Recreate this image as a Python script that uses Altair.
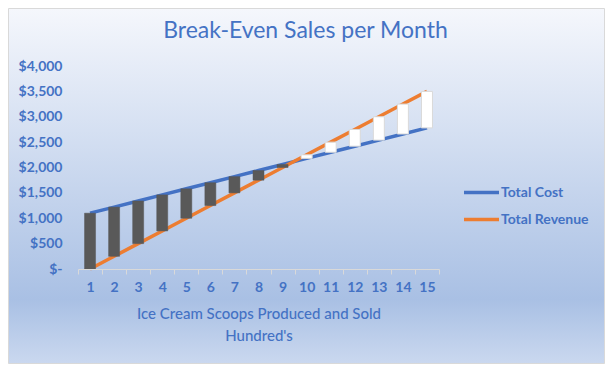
import altair as alt
import pandas as pd

# ---- data ----
units = list(range(1, 16))  # hundreds of scoops
total_cost = [1100, 1220, 1340, 1460, 1580, 1700, 1820, 1940, 2060, 2180, 2300, 2420, 2540, 2660, 2780]
total_revenue = [0, 250, 500, 750, 1000, 1250, 1500, 1750, 2000, 2250, 2500, 2750, 3000, 3250, 3500]
series_names = ["Total Cost", "Total Revenue"]
series_colors = ["#4472C4", "#ED7D31"]
y_ticks = [0, 500, 1000, 1500, 2000, 2500, 3000, 3500, 4000]

df = pd.DataFrame({"units": units, "Total Cost": total_cost, "Total Revenue": total_revenue})

TEXT = "#4472C4"
FONT = "Lato"
W, H = 361, 203
PAD = {"left": 70, "top": 58, "right": 166, "bottom": 95}

x_enc = alt.X(
    "units:O",
    sort="ascending",
    scale=alt.Scale(paddingInner=0, paddingOuter=0),
    axis=alt.Axis(
        title=["Ice Cream Scoops Produced and Sold", "Hundred's"],
        labelAngle=0,
        tickBand="extent",
        tickSize=5,
        tickColor="#d9d9d9",
        domainColor="#d9d9d9",
        labelFont=FONT, labelFontSize=14, labelFontWeight="bold", labelColor=TEXT,
        labelPadding=6,
        titleFont=FONT, titleFontSize=15, titleFontWeight=500, titleColor=TEXT,
        titlePadding=12, titleLineHeight=22,
        zindex=1,
    ),
)

y_scale = alt.Scale(domain=[0, 4000], nice=False)
y_axis = alt.Axis(
    title=None, values=y_ticks, grid=False, domain=False, ticks=False,
    labelExpr="datum.value == 0 ? '$-\u00a0\u00a0' : '$' + format(datum.value, ',')",
    labelFont=FONT, labelFontSize=14, labelFontWeight="bold", labelColor=TEXT,
    labelPadding=16, labelOverlap=False, zindex=1,
)

bg = alt.Chart(alt.Data(values=[{}])).mark_rect(
    fill=alt.LinearGradient(
        gradient="linear", x1=0, x2=0, y1=0, y2=1,
        stops=[
            alt.GradientStop(offset=0, color="#f5f7fc"),
            alt.GradientStop(offset=0.82, color="#a9c0e4"),
            alt.GradientStop(offset=1, color="#cad8ef"),
        ],
    ),
    stroke="#d9d9d9", strokeWidth=1,
).encode(
    x=alt.value(-PAD["left"] + 0.5), x2=alt.value(W + PAD["right"] - 0.5),
    y=alt.value(-PAD["top"] + 0.5), y2=alt.value(H + PAD["bottom"] - 0.5),
)

lines = alt.Chart().transform_fold(
    series_names, as_=["series", "value"]
).mark_line(strokeWidth=3.5).encode(
    x=x_enc,
    y=alt.Y("value:Q", scale=y_scale, axis=y_axis),
    color=alt.Color(
        "series:N",
        scale=alt.Scale(domain=series_names, range=series_colors),
        legend=alt.Legend(
            title=None, orient="none", legendX=384, legendY=107,
            symbolType="stroke", symbolSize=1225, symbolStrokeWidth=3.5,
            labelFont=FONT, labelFontSize=14, labelFontWeight="bold", labelColor=TEXT,
            labelOffset=0, rowPadding=-11, padding=0,
        ),
    ),
)

bars_down = alt.Chart().transform_filter(
    "datum['Total Cost'] > datum['Total Revenue']"
).mark_bar(size=11, fill="#595959", stroke="#595959", strokeWidth=0.5).encode(
    x=x_enc,
    y=alt.Y(field="Total Revenue", type="quantitative", scale=y_scale, axis=y_axis),
    y2=alt.Y2(field="Total Cost"),
)

bars_up = alt.Chart().transform_filter(
    "datum['Total Cost'] <= datum['Total Revenue']"
).mark_bar(size=11, fill="white", stroke="#d9d9d9", strokeWidth=1).encode(
    x=x_enc,
    y=alt.Y(field="Total Revenue", type="quantitative", scale=y_scale, axis=y_axis),
    y2=alt.Y2(field="Total Cost"),
)

chart = alt.layer(bg, lines, bars_down, bars_up, data=df).properties(
    width=W, height=H,
    autosize=alt.AutoSizeParams(type="none"),
    padding=PAD,
    title=alt.Title(
        "Break-Even Sales per Month", font=FONT, fontSize=23, fontWeight="normal",
        color=TEXT, anchor="middle", dx=47, offset=-53, baseline="alphabetic",
    ),
).configure_view(stroke=None)

chart.save("out.html", embed_options={"renderer": "svg", "actions": False})
